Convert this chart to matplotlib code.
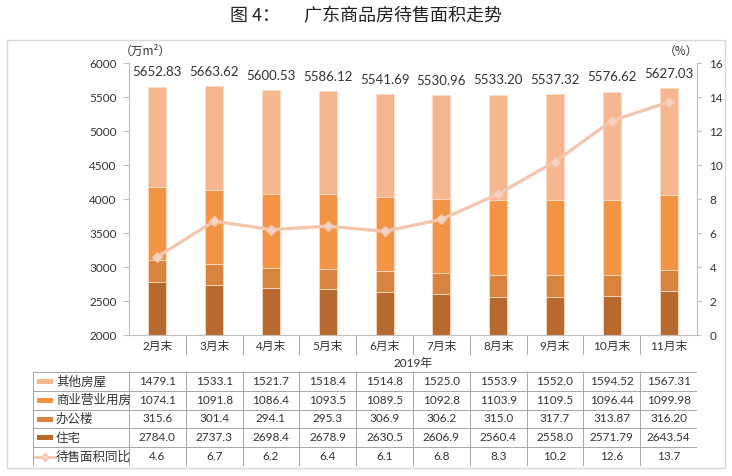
import matplotlib.pyplot as plt
from matplotlib.patches import Rectangle
from matplotlib.lines import Line2D

plt.rcParams['font.family'] = ['Lato', 'Noto Sans CJK SC', 'DejaVu Sans']

months = ['2月末', '3月末', '4月末', '5月末', '6月末', '7月末', '8月末', '9月末', '10月末', '11月末']
other = [1479.1, 1533.1, 1521.7, 1518.4, 1514.8, 1525.0, 1553.9, 1552.0, 1594.52, 1567.31]
commercial = [1074.1, 1091.8, 1086.4, 1093.5, 1089.5, 1092.8, 1103.9, 1109.5, 1096.44, 1099.98]
office = [315.6, 301.4, 294.1, 295.3, 306.9, 306.2, 315.0, 317.7, 313.87, 316.20]
housing = [2784.0, 2737.3, 2698.4, 2678.9, 2630.5, 2606.9, 2560.4, 2558.0, 2571.79, 2643.54]
yoy = [4.6, 6.7, 6.2, 6.4, 6.1, 6.8, 8.3, 10.2, 12.6, 13.7]
totals = ['5652.83', '5663.62', '5600.53', '5586.12', '5541.69', '5530.96', '5533.20', '5537.32', '5576.62', '5627.03']

# text as shown in the table (keeps the original decimals)
other_txt = ['1479.1', '1533.1', '1521.7', '1518.4', '1514.8', '1525.0', '1553.9', '1552.0', '1594.52', '1567.31']
comm_txt = ['1074.1', '1091.8', '1086.4', '1093.5', '1089.5', '1092.8', '1103.9', '1109.5', '1096.44', '1099.98']
office_txt = ['315.6', '301.4', '294.1', '295.3', '306.9', '306.2', '315.0', '317.7', '313.87', '316.20']
housing_txt = ['2784.0', '2737.3', '2698.4', '2678.9', '2630.5', '2606.9', '2560.4', '2558.0', '2571.79', '2643.54']
yoy_txt = ['4.6', '6.7', '6.2', '6.4', '6.1', '6.8', '8.3', '10.2', '12.6', '13.7']

c_housing = '#B86A2E'
c_office = '#D8843E'
c_comm = '#F39444'
c_other = '#F5B690'
c_line = '#F3C6B0'
grid_c = '#A6A6A6'
txt_c = '#333333'

W, H = 732, 476
fig = plt.figure(figsize=(W / 100, H / 100), dpi=100)

def fx(px):
    return px / W

def fy(py):
    return 1 - py / H

# outer frame
fig.patches.append(Rectangle((fx(7), fy(468)), fx(725) - fx(7), fy(40) - fy(468),
                             transform=fig.transFigure, fill=False, edgecolor='#D9D9D9', lw=1))

fig.text(0.5, fy(16), '图 4：      广东商品房待售面积走势', ha='center', va='center',
         fontsize=13, color='#222222', family=['Noto Sans CJK SC'])

ax = fig.add_axes([fx(129), fy(335), fx(697) - fx(129), fy(63) - fy(335)])
x = list(range(len(months)))
bw = 0.32
ec = '#F7DCC4'
ax.bar(x, housing, bw, bottom=0, color=c_housing, edgecolor=ec, lw=0.6, zorder=2)
b1 = [h for h in housing]
ax.bar(x, office, bw, bottom=b1, color=c_office, edgecolor=ec, lw=0.6, zorder=2)
b2 = [h + o for h, o in zip(housing, office)]
ax.bar(x, commercial, bw, bottom=b2, color=c_comm, edgecolor=ec, lw=0.6, zorder=2)
b3 = [b + c for b, c in zip(b2, commercial)]
ax.bar(x, other, bw, bottom=b3, color=c_other, edgecolor=ec, lw=0.6, zorder=2)
tops = [b + o for b, o in zip(b3, other)]
for xi, t, lab in zip(x, tops, totals):
    ax.annotate(lab, (xi, t), xytext=(0, 6), textcoords='offset points',
                ha='center', va='bottom', fontsize=9.5, color=txt_c)

ax.set_xlim(-0.5, 9.5)
ax.set_ylim(2000, 6000)
ax.set_yticks(range(2000, 6001, 500))
ax.set_xticks([])
for s in ['top', 'right']:
    ax.spines[s].set_visible(False)
ax.spines['left'].set_color('#BFBFBF')
ax.spines['bottom'].set_color('#BFBFBF')
ax.tick_params(axis='y', length=4, color='#BFBFBF', labelsize=8.5, labelcolor=txt_c, pad=5)
ax.patch.set_alpha(0)

ax2 = ax.twinx()
ax2.plot(x, yoy, color=c_line, lw=2.4, marker='D', ms=5, mfc='#F6D3C2', mec=c_line, zorder=3)
ax2.set_ylim(0, 16)
ax2.set_yticks(range(0, 17, 2))
for s in ['top', 'left', 'bottom']:
    ax2.spines[s].set_visible(False)
ax2.spines['right'].set_color('#BFBFBF')
ax2.tick_params(axis='y', length=3, color='#BFBFBF', labelsize=8.5, labelcolor=txt_c, pad=6)

fig.text(fx(145), fy(51), '（万m²）', ha='center', va='center', fontsize=8.5, color=txt_c,
         family=['Noto Sans CJK SC', 'DejaVu Sans'])
fig.text(fx(681), fy(51), '（%）', ha='center', va='center', fontsize=8.5, color=txt_c,
         family=['Noto Sans CJK SC', 'DejaVu Sans'])

# data table under the chart
tab = fig.add_axes([fx(33), fy(466), fx(697) - fx(33), fy(336) - fy(466)])
left_u = -0.5 - (129 - 33) / 56.8
tab.set_xlim(left_u, 9.5)
tab.set_ylim(130, 0)
tab.axis('off')

lw = 0.7
# category row
for i, m in enumerate(months):
    tab.text(i, 10, m, ha='center', va='center', fontsize=8.5, color=txt_c)
for b in range(1, 10):
    tab.plot([b - 0.5, b - 0.5], [0, 18], color=grid_c, lw=lw)
tab.plot([9.5, 9.5], [0, 130], color=grid_c, lw=lw)
tab.text(4.5, 27, '2019年', ha='center', va='center', fontsize=8.5, color=txt_c)

row_y = [36, 54.8, 73.6, 92.4, 111.2, 130]
for yv in row_y:
    tab.plot([left_u, 9.5], [yv, yv], color=grid_c, lw=lw)
tab.plot([left_u, left_u], [36, 130], color=grid_c, lw=lw)
for b in range(0, 10):
    tab.plot([b - 0.5, b - 0.5], [36, 130], color=grid_c, lw=lw)

rows = [('其他房屋', other_txt, c_other), ('商业营业用房', comm_txt, c_comm),
        ('办公楼', office_txt, c_office), ('住宅', housing_txt, c_housing),
        ('待售面积同比', yoy_txt, None)]
key_x0 = left_u + 4 / 56.8
key_x1 = left_u + 20 / 56.8
for r, (name, vals, col) in enumerate(rows):
    yc = (row_y[r] + row_y[r + 1]) / 2
    if col is not None:
        tab.add_patch(Rectangle((key_x0, yc - 2.5), key_x1 - key_x0, 5, color=col, lw=0))
    else:
        tab.plot([key_x0 - 2 / 56.8, key_x1 + 2 / 56.8], [yc, yc], color=c_line, lw=2)
        tab.plot([(key_x0 + key_x1) / 2], [yc], marker='D', ms=4, color='#F6D3C2', mec=c_line)
    tab.text(left_u + 23 / 56.8, yc, name, ha='left', va='center', fontsize=9, color=txt_c)
    for i, v in enumerate(vals):
        tab.text(i, yc, v, ha='center', va='center', fontsize=8.5, color=txt_c)

fig.savefig('out.png', dpi=100)
